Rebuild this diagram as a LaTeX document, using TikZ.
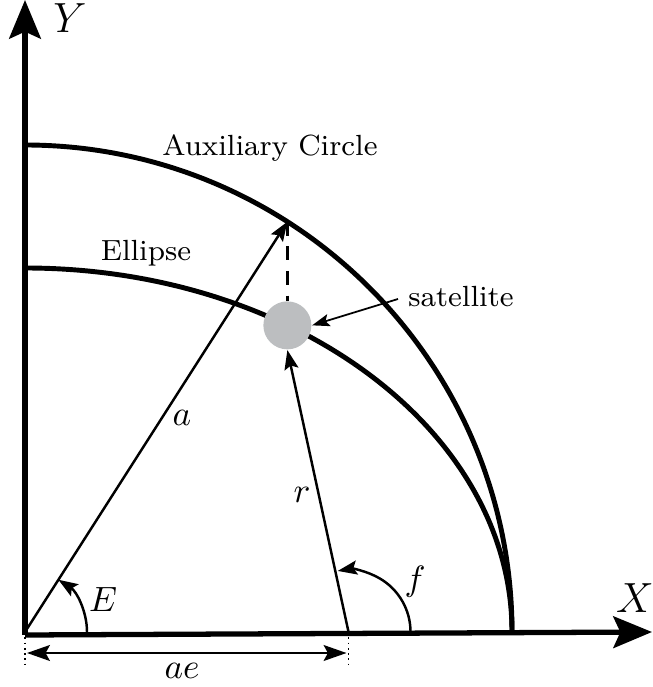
\documentclass[tikz,border=0pt]{standalone}
\usepackage{amsmath,amssymb}
\usetikzlibrary{arrows.meta,calc}
\definecolor{satgray}{HTML}{bcbec0}

\begin{document}
\begin{tikzpicture}[font=\fontsize{8.3}{10}\selectfont, line cap=butt, line join=round,
    axis/.style={line width=1.5pt, -{Stealth[length=11pt, width=9pt, inset=2pt]}},
    orbit/.style={line width=1.4pt},
    vec/.style={line width=0.7pt, -{Stealth[length=5.5pt, width=4pt, inset=1pt]}},
    guide/.style={line width=0.5pt, densely dotted},
    mlbl/.style={font=\normalsize}]
  \useasboundingbox (-0.25,-0.55) rectangle (6.27,6.32);
  % ---------- geometry (a = semi-major, b = semi-minor) ----------
  \def\a{4.87}
  \def\b{3.64}
  \def\E{57.4}
  \pgfmathsetmacro{\ae}{sqrt(\a*\a-\b*\b)}
  \coordinate (O) at (0,0);
  \coordinate (F) at (\ae,0);
  \coordinate (P) at ({\a*cos(\E)},{\a*sin(\E)});
  \coordinate (Xend) at (6.27,0);
  \coordinate (Yend) at (0,6.32);

  % ---------- circle and ellipse ----------
  \draw[orbit] (0,\a) arc (90:0:\a);
  \draw[orbit] (0,\b) arc (90:0:\a cm and \b cm);
  \node (auxlbl) at (2.45,4.84) {Auxiliary Circle};
  \node (elllbl) at (1.21,3.79) {Ellipse};

  % ---------- satellite ----------
  \node[circle, fill=satgray, minimum size=0.48cm, inner sep=0pt] (sat)
    at ({\a*cos(\E)},{\b*sin(\E)}) {};
  \draw[line width=0.9pt, dash pattern=on 4pt off 3pt] (P) -- (sat.north);
  \node (satlbl) at (4.36,3.35) {satellite};
  \draw[line width=0.5pt, -{Stealth[length=5pt, width=3.5pt, inset=1pt]}]
    (satlbl.west) ++(0.02,-0.02) -- (sat.east);

  % ---------- radius vectors ----------
  \draw[vec] (O) -- (P);
  \node[mlbl] (albl) at (1.57,2.14) {$a$};
  \draw[vec] (F) -- (sat.south);
  \node[mlbl] (rlbl) at (2.77,1.37) {$r$};

  % ---------- angles ----------
  \draw[vec] (0.62,0) arc (0:\E:0.62);
  \node[mlbl] (Elbl) at (0.78,0.33) {$E$};
  \draw[vec] ($(F)+(0.62,0)$) arc (0:100:0.62);
  \node[mlbl] (flbl) at (3.9,0.5) {$f$};

  % ---------- axes ----------
  \draw[axis] (0,-0.03) -- (Xend);
  \draw[axis] (0,-0.03) -- (Yend);
  \node[font=\large] (Xlbl) at (6.1,0.34) {$X$};
  \node[font=\large] (Ylbl) at (0.45,6.14) {$Y$};

  % ---------- ae dimension ----------
  \coordinate (Ol) at (0,-0.33);
  \coordinate (Fl) at ($(F)+(0,-0.33)$);
  \draw[guide] (O) -- (Ol);
  \draw[guide] (F) -- (Fl);
  \draw[line width=0.7pt, {Stealth[length=6.5pt, width=4.5pt, inset=1.2pt]}-{Stealth[length=6.5pt, width=4.5pt, inset=1.2pt]}]
    ($(O)+(0.02,-0.21)$) -- ($(F)+(-0.02,-0.21)$);
  \node[mlbl] (aelbl) at (1.57,-0.39) {$ae$};
\end{tikzpicture}
\end{document}
